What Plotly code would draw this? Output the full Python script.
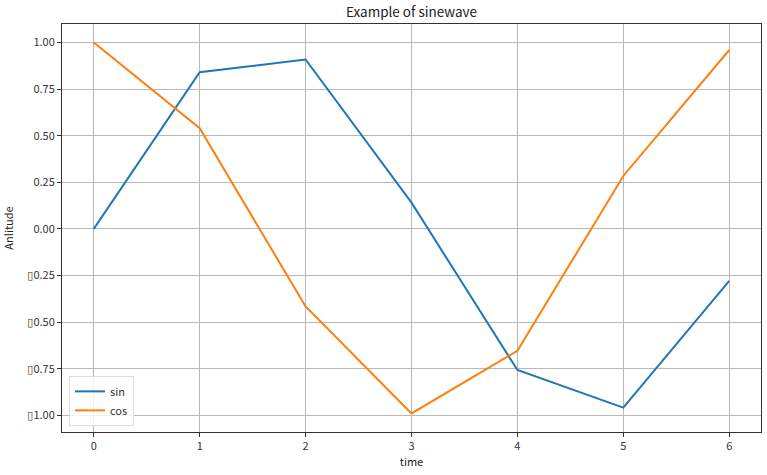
import plotly.graph_objects as go

x_vals = [0, 1, 2, 3, 4, 5, 6]
sin_vals = [0.0, 0.841, 0.909, 0.141, -0.757, -0.959, -0.279]
cos_vals = [1.0, 0.540, -0.416, -0.990, -0.654, 0.284, 0.960]
y_ticks = [1.0, 0.75, 0.5, 0.25, 0.0, -0.25, -0.5, -0.75, -1.0]
y_tick_labels = ["1.00", "0.75", "0.50", "0.25", "0.00", "\u25af0.25", "\u25af0.50", "\u25af0.75", "\u25af1.00"]

FONT = "Noto Sans CJK KR, DejaVu Sans, sans-serif"

fig = go.Figure()
fig.add_trace(go.Scatter(x=x_vals, y=sin_vals, mode="lines", name="sin",
                         line=dict(color="#1f77b4", width=2)))
fig.add_trace(go.Scatter(x=x_vals, y=cos_vals, mode="lines", name="cos",
                         line=dict(color="#ff7f0e", width=2)))

axis_common = dict(showline=True, linecolor="#333333", linewidth=1, mirror=True,
                   showgrid=True, gridcolor="#b8b8b8", gridwidth=1,
                   ticks="outside", ticklen=4, tickcolor="#333333",
                   zeroline=False, automargin=False,
                   tickfont=dict(size=11, color="#333333", family=FONT))

fig.update_xaxes(range=[-0.3, 6.3], tickvals=x_vals,
                 title=dict(text="time", font=dict(size=11, color="#222222", family=FONT), standoff=4),
                 **axis_common)
fig.update_yaxes(range=[-1.0897, 1.0995], tickvals=y_ticks, ticktext=y_tick_labels,
                 title=dict(text="Anlitude", font=dict(size=11, color="#222222", family=FONT), standoff=14),
                 **axis_common)

fig.update_layout(
    width=767, height=475,
    margin=dict(l=62, r=6, t=24, b=43, autoexpand=False),
    paper_bgcolor="white", plot_bgcolor="white",
    title=dict(text="Example of sinewave", x=0.5, xref="paper", xanchor="center",
               y=1, yref="paper", yanchor="bottom", pad=dict(b=7),
               font=dict(size=13.5, color="#222222", family=FONT)),
    legend=dict(x=0.01, y=0.015, xanchor="left", yanchor="bottom",
                bgcolor="rgba(255,255,255,0.8)", bordercolor="#dddddd", borderwidth=1,
                font=dict(size=11, color="#333333", family=FONT), itemwidth=30,
                tracegroupgap=0),
    font=dict(family=FONT),
)

# remove the default 8px page margin so the figure fills the window exactly
fig.write_html("out.html", config={"displayModeBar": False},
               post_script="document.body.style.margin='0';")
